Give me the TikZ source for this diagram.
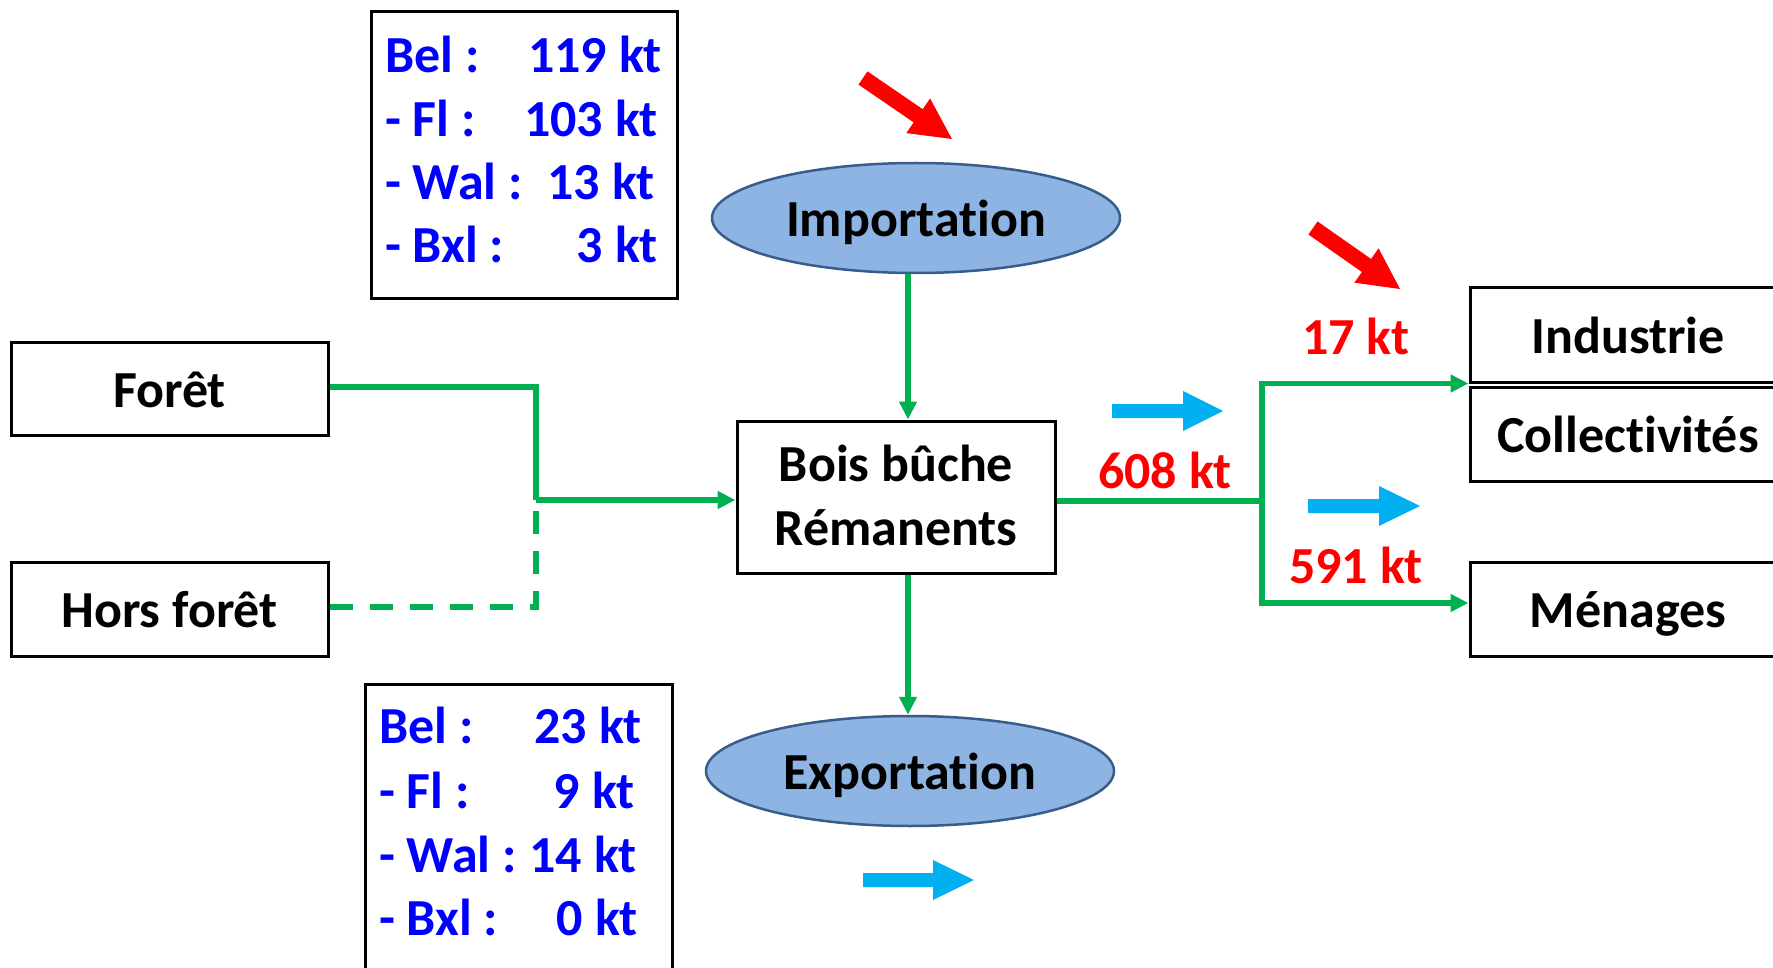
\documentclass[tikz,border=0pt]{standalone}
\usepackage{fontspec}
\setmainfont{Carlito}[Ligatures={NoCommon}]
\usetikzlibrary{arrows.meta,shapes.geometric}
\definecolor{flowgreen}{HTML}{00B050}
\definecolor{skyarrow}{HTML}{00B0F0}
\definecolor{ellfill}{HTML}{8EB4E3}
\definecolor{elldraw}{HTML}{385D8A}
\definecolor{valblue}{HTML}{0000FF}
\definecolor{valred}{HTML}{FF0000}
\begin{document}
\begin{tikzpicture}[x=1pt,y=-1pt,
  big/.style={font=\fontsize{52}{64}\selectfont\bfseries},
  box/.style={draw=black, line width=3pt, rectangle, inner sep=0pt, big, text height=37pt, text depth=0pt},
  plainbox/.style={draw=black, line width=3pt, rectangle, inner sep=0pt},
  ell/.style={ellipse, draw=elldraw, line width=2.5pt, fill=ellfill, inner sep=0pt, minimum width=408pt, minimum height=110pt, big, text height=37pt, text depth=0pt},
  flow/.style={draw=flowgreen, line width=5.5pt},
  flowarrow/.style={flow, -{Triangle[length=18pt,width=17pt]}},
  valtext/.style={big, text=valblue, inner sep=0pt},
  redtext/.style={big, text=valred, inner sep=0pt},
  plaintext/.style={big, inner sep=0pt},
]
\useasboundingbox (0,0) rectangle (1773,968);

% boxes
\node[box, minimum width=317pt, minimum height=92pt] (foret) at (169.5,389) {Forêt};
\node[box, minimum width=317pt, minimum height=94pt] (hors) at (169.5,609) {Hors forêt};
\node[plainbox, minimum width=318pt, minimum height=152pt] (bois) at (896,497) {};
\node[plaintext, anchor=base] (bois1) at (896,481) {Bois bûche};
\node[plaintext, anchor=base] (bois2) at (896,545) {Rémanents};
\node[box, minimum width=316pt, minimum height=94pt] (ind) at (1628,335) {Industrie};
\node[box, minimum width=316pt, minimum height=94pt] (col) at (1628,434) {Collectivités};
\node[box, minimum width=316pt, minimum height=94pt] (men) at (1628,609) {Ménages};

% ellipses
\node[ell] (imp) at (916,218) {Importation};
\node[ell] (exp) at (910,771) {Exportation};

% value boxes
\node[plainbox, minimum width=306pt, minimum height=287pt] (impbox) at (524,155.5) {};
\node[valtext, anchor=base west] (ib1) at (385,73) {Bel :};
\node[valtext, anchor=base west] (ib2) at (385,137) {- Fl :};
\node[valtext, anchor=base west] (ib3) at (385,200) {- Wal :};
\node[valtext, anchor=base west] (ib4) at (385,263) {- Bxl :};
\node[valtext, anchor=base east] (iv1) at (662,73) {119 kt};
\node[valtext, anchor=base east] (iv2) at (658,137) {103 kt};
\node[valtext, anchor=base east] (iv3) at (655,200) {13 kt};
\node[valtext, anchor=base east] (iv4) at (658,263) {3 kt};

\node[plainbox, minimum width=307pt, minimum height=316pt] (expbox) at (518.5,842) {};
\node[valtext, anchor=base west] (eb1) at (379,743) {Bel :};
\node[valtext, anchor=base west] (eb2) at (379,808) {- Fl :};
\node[valtext, anchor=base west] (eb3) at (379,872) {- Wal :};
\node[valtext, anchor=base west] (eb4) at (379,935) {- Bxl :};
\node[valtext, anchor=base east] (ev1) at (642,743) {23 kt};
\node[valtext, anchor=base east] (ev2) at (635,808) {9 kt};
\node[valtext, anchor=base east] (ev3) at (637,872) {14 kt};
\node[valtext, anchor=base east] (ev4) at (638,935) {0 kt};

% red values
\node[redtext, anchor=base] (v17) at (1356,355) {17 kt};
\node[redtext, anchor=base] (v608) at (1165,488) {608 kt};
\node[redtext, anchor=base] (v591) at (1356,583) {591 kt};

% junctions
\coordinate (j1) at (536,500);
\coordinate (j2) at (1262,501);
\coordinate (vx) at (908,0);

% green flows
\draw[flow] ([yshift=2pt]foret.east) -| (j1);
\draw[flow, dash pattern=on 23pt off 17pt] ([yshift=2pt]hors.east) -| (j1);
\draw[flowarrow] (j1) -- (j1 -| bois.west);
\draw[flowarrow] (vx |- imp.south) -- (vx |- bois.north);
\draw[flowarrow] (vx |- bois.south) -- (vx |- exp.north);
\draw[flow] (j2 -| bois.east) -- (j2);
\draw[flowarrow] (j2) |- (ind.south west);
\draw[flowarrow] (j2) |- ([yshift=6pt]men.west);

% blue block arrows
\fill[skyarrow] (1112,404) -- (1183,404) -- (1183,391) -- (1223,411) -- (1183,431) -- (1183,418) -- (1112,418) -- cycle;
\fill[skyarrow] (1308,499) -- (1379,499) -- (1379,486) -- (1420,506) -- (1379,526) -- (1379,513) -- (1308,513) -- cycle;
\fill[skyarrow] (863,873) -- (933,873) -- (933,860) -- (974,880) -- (933,900) -- (933,887) -- (863,887) -- cycle;

% red block arrows
\fill[valred] (858.5,84.6) -- (867.5,71.4) -- (922.7,109.2) -- (930.1,98.5) -- (952,139) -- (906.3,133.1) -- (913.7,122.4) -- cycle;
\fill[valred] (1308.4,234.5) -- (1317.6,221.5) -- (1371.1,259.0) -- (1378.6,248.3) -- (1400,289) -- (1354.4,282.7) -- (1361.9,272.0) -- cycle;
\end{tikzpicture}
\end{document}
